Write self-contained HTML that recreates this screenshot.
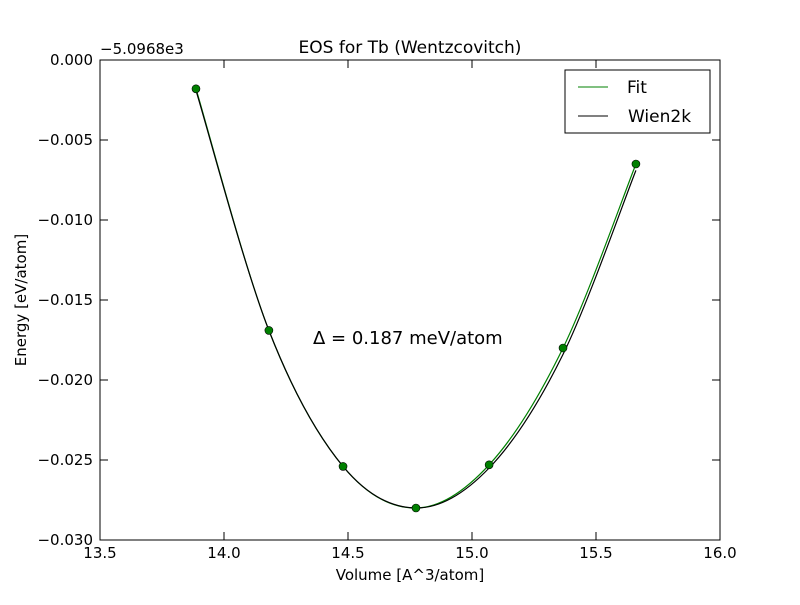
<!DOCTYPE html>
<html><head><meta charset="utf-8"><style>
body{margin:0;background:#fff;}
svg text{font-family:"DejaVu Sans","Liberation Sans",sans-serif;}
</style></head><body>
<svg id="chart" width="800" height="600" xmlns="http://www.w3.org/2000/svg">
<rect width="800" height="600" fill="#fff"/>
<g id="ticks"></g>
<g id="series"></g>
<rect x="100" y="60" width="620" height="480" fill="none" stroke="#000" stroke-width="1"/>
<text x="410" y="53" font-size="17" text-anchor="middle">EOS for Tb (Wentzcovitch)</text>
<text x="100" y="54" font-size="15">−5.0968e3</text>
<text x="410" y="580" font-size="15" text-anchor="middle">Volume [A^3/atom]</text>
<text x="26" y="300" font-size="15" text-anchor="middle" transform="rotate(-90 26 300)">Energy [eV/atom]</text>
<text x="313" y="344" font-size="18">Δ = 0.187 meV/atom</text>
<g>
<rect x="565" y="70" width="145" height="63" fill="#fff" stroke="#000"/>
<line x1="578" y1="87" x2="608" y2="87" stroke="#008000"/>
<text x="627" y="93" font-size="17">Fit</text>
<line x1="578" y1="116" x2="608" y2="116" stroke="#000"/>
<text x="628" y="122" font-size="17">Wien2k</text>
</g>
</svg>
<script>
const volumes=[13.887,14.181,14.48,14.774,15.069,15.367,15.661];
const energies=[-0.0018,-0.0169,-0.0254,-0.0280,-0.0253,-0.0180,-0.0065];
const fitVolumes=[13.887,14.181,14.48,14.774,15.069,15.367,15.661];
const fitEnergies=[-0.0018,-0.0169,-0.0254,-0.0280,-0.0253,-0.0180,-0.0065];
const wienVolumes=[13.887,14.181,14.48,14.774,15.069,15.367,15.661];
const wienEnergies=[-0.0019,-0.0169,-0.0254,-0.0280,-0.0255,-0.0184,-0.0069];
const xTicks=[13.5,14.0,14.5,15.0,15.5,16.0];
const xTickLabels=["13.5","14.0","14.5","15.0","15.5","16.0"];
const yTicks=[0,-0.005,-0.010,-0.015,-0.020,-0.025,-0.030];
const yTickLabels=["0.000","−0.005","−0.010","−0.015","−0.020","−0.025","−0.030"];
const NS="http://www.w3.org/2000/svg";
const X=v=>100+(v-13.5)/2.5*620;
const Y=e=>60+(0-e)/0.030*480;
function mk(t,a,p){const el=document.createElementNS(NS,t);for(const k in a)el.setAttribute(k,a[k]);p.appendChild(el);return el;}
const tg=document.getElementById('ticks');
xTicks.forEach((v,i)=>{
 const x=X(v);
 let l=mk('line',{x1:x,y1:540,x2:x,y2:532,stroke:'#000'},tg);
 
 
 l=mk('line',{x1:x,y1:60,x2:x,y2:68,stroke:'#000'},tg);
 
 
 const t=mk('text',{x:x,y:558,'font-size':15,'text-anchor':'middle'},tg);t.textContent=xTickLabels[i];
 
 
});
yTicks.forEach((v,i)=>{
 const y=Y(v);
 let l=mk('line',{x1:100,y1:y,x2:108,y2:y,stroke:'#000'},tg);
 
 
 l=mk('line',{x1:720,y1:y,x2:712,y2:y,stroke:'#000'},tg);
 
 
 const t=mk('text',{x:93,y:y+5,'font-size':15,'text-anchor':'end'},tg);t.textContent=yTickLabels[i];
 
 
});
function smooth(xs,ys){
 const p=xs.map((v,i)=>[X(v),Y(ys[i])]);
 let d='M'+p[0][0]+','+p[0][1];
 for(let i=0;i<p.length-1;i++){
  const p0=p[i-1]||p[i],p1=p[i],p2=p[i+1],p3=p[i+2]||p[i+1];
  const c1=[p1[0]+(p2[0]-p0[0])/6,p1[1]+(p2[1]-p0[1])/6];
  const c2=[p2[0]-(p3[0]-p1[0])/6,p2[1]-(p3[1]-p1[1])/6];
  d+=' C'+c1+' '+c2+' '+p2;
 }
 return d;
}
const sg=document.getElementById('series');
let fl=mk('path',{d:smooth(fitVolumes,fitEnergies),fill:'none',stroke:'#008000','stroke-width':1.2},sg);


let wl=mk('path',{d:smooth(wienVolumes,wienEnergies),fill:'none',stroke:'#000','stroke-width':1.2},sg);


volumes.forEach((v,i)=>{
 const c=mk('circle',{cx:X(v),cy:Y(energies[i]),r:4,fill:'#008000',stroke:'#000','stroke-width':0.6},sg);
 
 
});
</script>
</body></html>
